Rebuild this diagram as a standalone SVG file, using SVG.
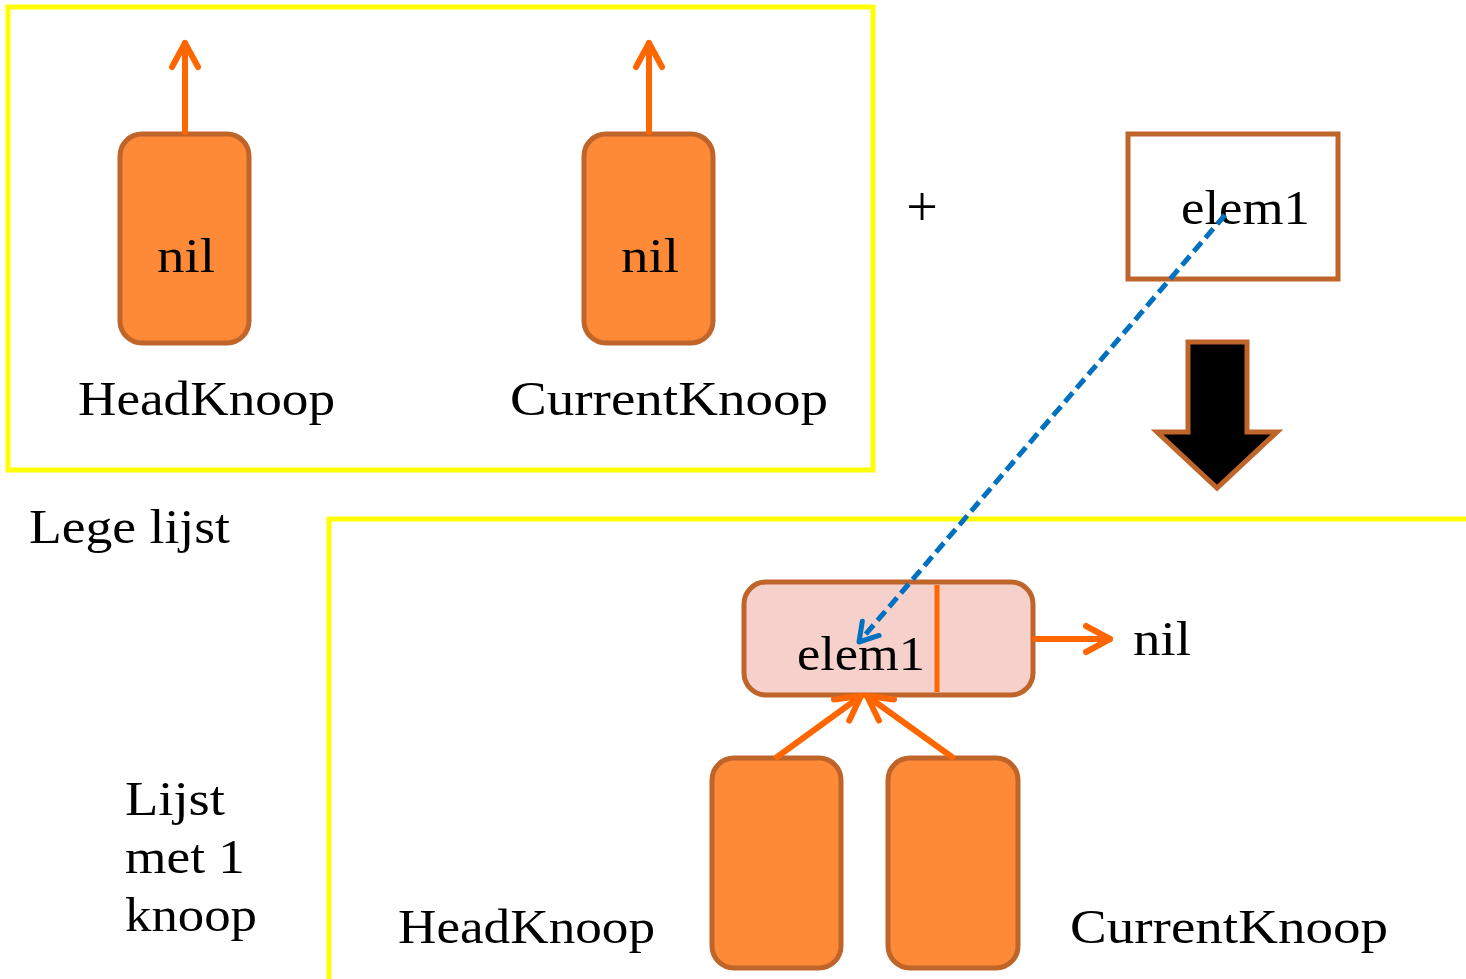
<svg xmlns="http://www.w3.org/2000/svg" width="1466" height="979" viewBox="0 0 1466 979">
<defs>
<style>
.frame{fill:none;stroke:#FFFF00;stroke-width:5}
.node{fill:#FE8A38;stroke:#C0652A;stroke-width:5}
.pink{fill:#F6D0CA;stroke:#C0652A;stroke-width:5}
.box{fill:#FFFFFF;stroke:#C0652A;stroke-width:5}
.conn{fill:none;stroke:#FF6600;stroke-width:6;stroke-linecap:round}
.dash{fill:none;stroke:#0070C0;stroke-width:5;stroke-dasharray:12,6}
text{font-family:"Liberation Serif","Times New Roman",serif;font-size:48px;fill:#000}
</style>
<marker id="ah" markerUnits="userSpaceOnUse" viewBox="-30 -20 36 40" refX="0" refY="0" markerWidth="36" markerHeight="40" orient="auto">
<path d="M-24,-13 L0,0 L-24,13" fill="none" stroke="#FF6600" stroke-width="6" stroke-linecap="round" stroke-linejoin="round"/>
</marker>
<marker id="bh" markerUnits="userSpaceOnUse" viewBox="-24 -16 30 32" refX="0" refY="0" markerWidth="30" markerHeight="32" orient="auto">
<path d="M-18,-11 L0,0 L-18,11" fill="none" stroke="#0070C0" stroke-width="5" stroke-linecap="round" stroke-linejoin="round"/>
</marker>
</defs>

<g id="frames">
<rect class="frame" x="8" y="7" width="865" height="463"/>
<path class="frame" d="M329,979 L329,519 L1466,519"/>
</g>

<g id="headknoop-top">
<rect class="node" x="120" y="134" width="129" height="209" rx="22"/>
<text x="157" y="272" textLength="58" lengthAdjust="spacingAndGlyphs">nil</text>
<text x="78" y="415" textLength="257" lengthAdjust="spacingAndGlyphs">HeadKnoop</text>
</g>

<g id="currentknoop-top">
<rect class="node" x="584" y="134" width="129" height="209" rx="22"/>
<text x="621" y="272" textLength="58" lengthAdjust="spacingAndGlyphs">nil</text>
<text x="510" y="415" textLength="318" lengthAdjust="spacingAndGlyphs">CurrentKnoop</text>
</g>

<g id="plus">
<text x="922" y="226" text-anchor="middle" style="font-size:56px">+</text>
</g>

<g id="elem1-box">
<rect class="box" x="1128" y="134" width="210" height="145"/>
<text x="1181" y="224" textLength="129" lengthAdjust="spacingAndGlyphs">elem1</text>
</g>

<g id="big-arrow">
<polygon points="1188,342 1247,342 1247,432 1277,432 1217,488 1157,432 1188,432" fill="#000" stroke="#C0652A" stroke-width="5"/>
</g>

<g id="label-lege">
<text x="29" y="543" textLength="201" lengthAdjust="spacingAndGlyphs">Lege lijst</text>
</g>

<g id="label-lijst">
<text x="125" y="815" textLength="100" lengthAdjust="spacingAndGlyphs">Lijst</text>
<text x="125" y="873" textLength="120" lengthAdjust="spacingAndGlyphs">met 1</text>
<text x="125" y="931" textLength="132" lengthAdjust="spacingAndGlyphs">knoop</text>
</g>

<g id="elem1-node">
<rect class="pink" x="744" y="582" width="289" height="113" rx="22"/>
<line x1="937" y1="585" x2="937" y2="692" stroke="#FF6600" stroke-width="5"/>
<text x="797" y="670" textLength="128" lengthAdjust="spacingAndGlyphs">elem1</text>
</g>

<g id="nil-right">
<text x="1133" y="655" textLength="58" lengthAdjust="spacingAndGlyphs">nil</text>
</g>

<g id="headknoop-bottom">
<rect class="node" x="712" y="758" width="129" height="210" rx="22"/>
<text x="398" y="943" textLength="257" lengthAdjust="spacingAndGlyphs">HeadKnoop</text>
</g>

<g id="currentknoop-bottom">
<rect class="node" x="888" y="758" width="130" height="210" rx="22"/>
<text x="1070" y="943" textLength="318" lengthAdjust="spacingAndGlyphs">CurrentKnoop</text>
</g>

<g id="connectors">
<line class="conn" x1="185" y1="132" x2="185" y2="43" marker-end="url(#ah)"/>
<line class="conn" x1="649" y1="132" x2="649" y2="43" marker-end="url(#ah)"/>
<line class="conn" x1="1035" y1="639" x2="1110" y2="639" marker-end="url(#ah)"/>
<line class="conn" x1="777" y1="757" x2="861" y2="696" marker-end="url(#ah)"/>
<line class="conn" x1="952" y1="757" x2="867" y2="696" marker-end="url(#ah)"/>
<line class="dash" x1="1225" y1="215" x2="859" y2="642" marker-end="url(#bh)"/>
</g>
</svg>
